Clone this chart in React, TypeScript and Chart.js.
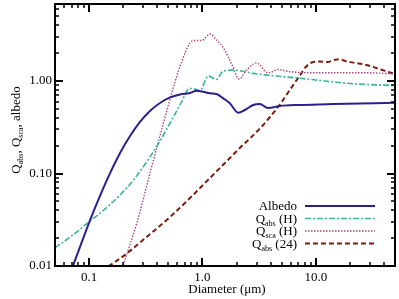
import React, { useEffect, useRef } from "react";
import { Chart, registerables } from "chart.js";

Chart.register(...registerables);

// ---- data ----
const albedoX = [0.0715, 0.102, 0.125, 0.153, 0.1875, 0.2297, 0.281, 0.344, 0.422, 0.518, 0.634, 0.776, 0.889, 1.016, 1.164, 1.333, 1.525, 1.746, 2.066, 2.366, 2.803, 3.21, 3.78, 4.82, 7.23, 14.1, 50];
const albedoY = [0.0098, 0.0314, 0.0578, 0.101, 0.167, 0.254, 0.361, 0.474, 0.578, 0.664, 0.715, 0.741, 0.786, 0.766, 0.736, 0.723, 0.65, 0.574, 0.454, 0.486, 0.551, 0.564, 0.511, 0.537, 0.551, 0.564, 0.582];

const qabsHX = [0.05, 0.0681, 0.102, 0.138, 0.1875, 0.254, 0.344, 0.422, 0.518, 0.634, 0.776, 0.86, 0.951, 1.125, 1.333, 1.525, 1.866, 2.14, 2.8, 3.68, 7.23, 14.1, 20.0, 50];
const qabsHY = [0.0157, 0.0206, 0.0306, 0.0413, 0.0586, 0.0893, 0.1507, 0.2244, 0.3516, 0.551, 0.83, 0.82, 0.79, 1.13, 1.04, 1.28, 1.31, 1.29, 1.21, 1.16, 1.07, 0.98, 0.94, 0.89];

const qscaHX = [0.196, 0.2005, 0.263, 0.344, 0.452, 0.573, 0.634, 0.776, 0.859, 0.984, 1.164, 1.333, 1.525, 1.81, 2.11, 2.45, 3.0, 3.8, 4.66, 5.9, 10.1, 28.0, 50];
const qscaHY = [0.0095, 0.0103, 0.029, 0.1, 0.349, 0.98, 1.44, 2.57, 2.74, 2.74, 3.22, 2.77, 2.3, 1.53, 1.05, 1.31, 1.57, 1.22, 1.33, 1.26, 1.23, 1.23, 1.19];

const qabs24X = [0.148, 0.2005, 0.322, 0.518, 0.776, 0.951, 1.164, 1.426, 1.746, 2.138, 2.62, 3.21, 3.94, 4.82, 5.9, 7.23, 8.16, 9.22, 10.85, 12.5, 15.3, 20.0, 28.1, 38.9, 50];
const qabs24Y = [0.0099, 0.0128, 0.0206, 0.0339, 0.0543, 0.0697, 0.0893, 0.1146, 0.147, 0.189, 0.239, 0.306, 0.408, 0.557, 0.8, 1.146, 1.416, 1.585, 1.625, 1.6, 1.71, 1.6, 1.49, 1.31, 1.19];

const xMajorTicks = [0.1, 1, 10];
const xTickLabels = ["0.1", "1.0", "10.0"];
const yMajorTicks = [0.01, 0.1, 1];
const yTickLabels = ["0.01", "0.10", "1.00"];

const X_MIN = 0.05;
const X_MAX = 50;
const Y_MIN = 0.01;
const Y_MAX = 6.8;

const SERIF = '"Liberation Serif", "Times New Roman", Times, serif';

type Part = { t: string; sub?: boolean };

const seriesStyle = [
  { label: [{ t: "Albedo" }] as Part[], color: "#2c1f8e", width: 2, dash: [] as number[] },
  { label: [{ t: "Q" }, { t: "abs", sub: true }, { t: " (H)" }] as Part[], color: "#3cb39c", width: 1.6, dash: [6, 2, 2, 2] },
  { label: [{ t: "Q" }, { t: "sca", sub: true }, { t: " (H)" }] as Part[], color: "#a8467f", width: 1.4, dash: [1.5, 1.5] },
  { label: [{ t: "Q" }, { t: "abs", sub: true }, { t: " (24)" }] as Part[], color: "#7a1c0e", width: 2, dash: [5, 3] },
];

function pts(xs: number[], ys: number[]) {
  return xs.map((x, i) => ({ x, y: ys[i] }));
}

function richWidth(ctx: CanvasRenderingContext2D, parts: Part[], size: number, subSize: number) {
  let w = 0;
  for (const p of parts) {
    ctx.font = `${p.sub ? subSize : size}px ${SERIF}`;
    w += ctx.measureText(p.t).width;
  }
  return w;
}

function drawRich(
  ctx: CanvasRenderingContext2D,
  parts: Part[],
  x: number,
  y: number,
  align: "left" | "right" | "center",
  size = 13,
  subSize = 8
) {
  const w = richWidth(ctx, parts, size, subSize);
  let cx = align === "left" ? x : align === "right" ? x - w : x - w / 2;
  ctx.textAlign = "left";
  ctx.textBaseline = "alphabetic";
  for (const p of parts) {
    ctx.font = `${p.sub ? subSize : size}px ${SERIF}`;
    ctx.fillText(p.t, cx, p.sub ? y + 3 : y);
    cx += ctx.measureText(p.t).width;
  }
}

const framePlugin = {
  id: "frame",
  afterDraw(chart: any) {
    const { ctx, chartArea: a, scales } = chart;
    const xs = scales.x;
    const ys = scales.y;
    ctx.save();
    ctx.fillStyle = "#000";
    ctx.strokeStyle = "#000";

    const minorDecades = [0.01, 0.1, 1, 10];
    ctx.lineWidth = 1.5;
    const xTick = (v: number, len: number) => {
      const px = Math.round(xs.getPixelForValue(v));
      ctx.beginPath();
      ctx.moveTo(px, a.bottom);
      ctx.lineTo(px, a.bottom - len);
      ctx.moveTo(px, a.top);
      ctx.lineTo(px, a.top + len);
      ctx.stroke();
    };
    const yTick = (v: number, len: number) => {
      const py = Math.round(ys.getPixelForValue(v));
      ctx.beginPath();
      ctx.moveTo(a.left, py);
      ctx.lineTo(a.left + len, py);
      ctx.moveTo(a.right, py);
      ctx.lineTo(a.right - len, py);
      ctx.stroke();
    };
    for (const d of minorDecades) {
      for (let k = 2; k <= 9; k++) {
        const v = k * d;
        if (v > X_MIN && v < X_MAX) xTick(v, 4);
        if (v > Y_MIN && v < Y_MAX) yTick(v, 4);
      }
    }
    ctx.lineWidth = 2;
    xMajorTicks.forEach((v) => xTick(v, 8));
    yMajorTicks.forEach((v) => yTick(v, 8));

    ctx.lineWidth = 2;
    ctx.strokeRect(a.left, a.top, a.right - a.left, a.bottom - a.top);

    ctx.font = `13px ${SERIF}`;
    ctx.textBaseline = "middle";
    ctx.textAlign = "center";
    xMajorTicks.forEach((v, i) => {
      ctx.fillText(xTickLabels[i], xs.getPixelForValue(v), a.bottom + 12);
    });
    ctx.textAlign = "right";
    yMajorTicks.forEach((v, i) => {
      ctx.fillText(yTickLabels[i], a.left - 3, ys.getPixelForValue(v));
    });

    ctx.textAlign = "center";
    ctx.font = `13px ${SERIF}`;
    ctx.fillText("Diameter (\u03bcm)", 227, 290);

    ctx.save();
    ctx.translate(20, 130);
    ctx.rotate(-Math.PI / 2);
    drawRich(
      ctx,
      [{ t: "Q" }, { t: "abs", sub: true }, { t: ", Q" }, { t: "sca", sub: true }, { t: ", albedo" }],
      0,
      0,
      "center"
    );
    ctx.restore();

    const rows = [206, 218.5, 231, 243.5];
    seriesStyle.forEach((s, i) => {
      const y = rows[i];
      ctx.fillStyle = "#000";
      drawRich(ctx, s.label, 297, y + 4, "right");
      ctx.strokeStyle = s.color;
      ctx.lineWidth = s.width;
      ctx.setLineDash(s.dash);
      ctx.beginPath();
      ctx.moveTo(305, y);
      ctx.lineTo(375, y);
      ctx.stroke();
      ctx.setLineDash([]);
    });

    ctx.restore();
  },
};

export default function App() {
  const ref = useRef<HTMLCanvasElement>(null);

  useEffect(() => {
    document.body.style.margin = "0";
    const canvas = ref.current;
    if (!canvas) return;
    const series = [
      pts(albedoX, albedoY),
      pts(qabsHX, qabsHY),
      pts(qscaHX, qscaHY),
      pts(qabs24X, qabs24Y),
    ];
    const chart = new Chart(canvas, {
      type: "scatter",
      data: {
        datasets: series.map((d, i) => ({
          data: d,
          showLine: true,
          borderColor: seriesStyle[i].color,
          backgroundColor: seriesStyle[i].color,
          borderWidth: seriesStyle[i].width,
          borderDash: seriesStyle[i].dash,
          pointRadius: 0,
          cubicInterpolationMode: "monotone",
          fill: false,
        })),
      },
      options: {
        responsive: false,
        animation: false,
        devicePixelRatio: 1,
        layout: { padding: { left: 55, right: 4, top: 4, bottom: 33 } },
        plugins: { legend: { display: false }, tooltip: { enabled: false } },
        scales: {
          x: { type: "logarithmic", min: X_MIN, max: X_MAX, display: false },
          y: { type: "logarithmic", min: Y_MIN, max: Y_MAX, display: false },
        },
      },
      plugins: [framePlugin],
    } as any);
    let alive = true;
    if ((document as any).fonts && (document as any).fonts.load) {
      (document as any).fonts.load(`13px "Liberation Serif"`).then(() => {
        if (alive) chart.update();
      }).catch(() => {});
    }
    return () => {
      alive = false;
      chart.destroy();
    };
  }, []);

  return (
    <div style={{ position: "absolute", left: 0, top: 0, width: 399, height: 299, background: "#fff" }}>
      <canvas ref={ref} width={399} height={299} />
    </div>
  );
}
